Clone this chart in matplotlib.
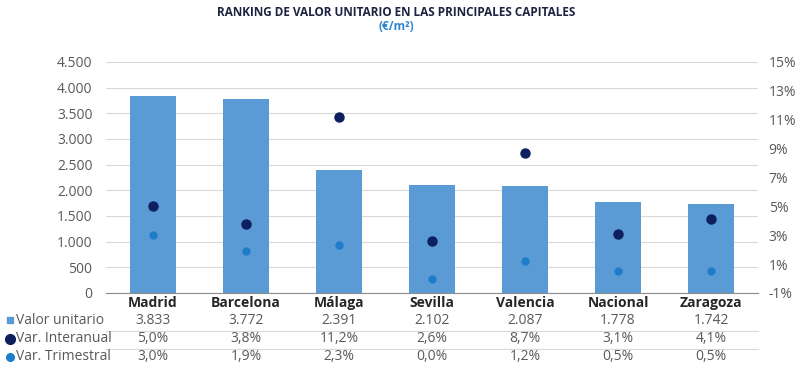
import matplotlib.pyplot as plt
import matplotlib.transforms as mtransforms

# data
ciudades = ['Madrid', 'Barcelona', 'Málaga', 'Sevilla', 'Valencia', 'Nacional', 'Zaragoza']
valor_unitario = [3833, 3772, 2391, 2102, 2087, 1778, 1742]
var_interanual = [5.0, 3.8, 11.2, 2.6, 8.7, 3.1, 4.1]
var_trimestral = [3.0, 1.9, 2.3, 0.0, 1.2, 0.5, 0.5]

left_ticks = [0, 500, 1000, 1500, 2000, 2500, 3000, 3500, 4000, 4500]
right_ticks = [-1, 1, 3, 5, 7, 9, 11, 13, 15]

c_bar = '#5b9bd5'
c_dark = '#0c1f5e'
c_light = '#1f7cc9'
c_text = '#595959'

plt.rcParams['font.family'] = ['Open Sans', 'DejaVu Sans']

def miles(v):
    return f'{v:,}'.replace(',', '.')

def pct(v):
    return f'{v:.1f}%'.replace('.', ',')

fig = plt.figure(figsize=(8, 3.69), dpi=100)
ax = fig.add_axes([0.133, 0.206, 0.814, 0.626])
x = list(range(len(ciudades)))

ax.bar(x, valor_unitario, width=0.5, color=c_bar, zorder=2)
ax.set_xlim(-0.5, len(ciudades) - 0.5)
ax.set_ylim(0, 4500)
ax.set_yticks(left_ticks)
ax.set_yticklabels([miles(v) for v in left_ticks])
ax.grid(axis='y', color='#d9d9d9', linewidth=0.8, zorder=0)
ax.set_xticks([])
for s in ['top', 'right', 'left']:
    ax.spines[s].set_visible(False)
ax.spines['bottom'].set_color('#8c8c8c')
ax.tick_params(axis='y', length=0, labelsize=10, labelcolor=c_text, pad=10)

ax2 = ax.twinx()
ax2.set_ylim(-1, 15)
ax2.set_yticks(right_ticks)
ax2.set_yticklabels([f'{v}%' for v in right_ticks])
ax2.tick_params(axis='y', length=0, labelsize=10, labelcolor=c_text, pad=8)
for s in ax2.spines.values():
    s.set_visible(False)
ax2.plot(x, var_interanual, 'o', color=c_dark, markersize=6.5, zorder=4)
ax2.plot(x, var_trimestral, 'o', color=c_light, markersize=5, zorder=4)

# data table under the chart
trans = mtransforms.blended_transform_factory(ax.transData, fig.transFigure)
row_y = [1 - 303 / 369, 1 - 320 / 369, 1 - 339 / 369, 1 - 357 / 369]
for i, c in enumerate(ciudades):
    ax.text(i, row_y[0], c, transform=trans, ha='center', va='center',
            fontsize=10, fontweight='bold', color='#262626')
    ax.text(i, row_y[1], miles(valor_unitario[i]), transform=trans, ha='center',
            va='center', fontsize=10, color=c_text)
    ax.text(i, row_y[2], pct(var_interanual[i]), transform=trans, ha='center',
            va='center', fontsize=10, color=c_text)
    ax.text(i, row_y[3], pct(var_trimestral[i]), transform=trans, ha='center',
            va='center', fontsize=10, color=c_text)

for yl in [1 - 331 / 369, 1 - 349 / 369]:
    fig.add_artist(plt.Line2D([0.133, 0.947], [yl, yl], color='#d9d9d9', linewidth=0.8))

etiquetas = ['Valor unitario', 'Var. Interanual', 'Var. Trimestral']
marcas = [('s', c_bar, 4), ('o', c_dark, 7), ('o', c_light, 5.5)]
for lab, (m, col, ms), yy in zip(etiquetas, marcas, row_y[1:]):
    fig.add_artist(plt.Line2D([10 / 800], [yy], marker=m, color=col, markersize=ms,
                              linestyle='none'))
    fig.text(16 / 800, yy, lab, ha='left', va='center', fontsize=10, color=c_text)

fig.text(0.495, 1 - 12 / 369, 'RANKING DE VALOR UNITARIO EN LAS PRINCIPALES CAPITALES',
         ha='center', va='center', fontsize=8.5, fontweight='bold', color='#1c2340')
fig.text(0.495, 1 - 27 / 369, '(€/m²)', ha='center', va='center', fontsize=8.5,
         fontweight='bold', color='#2e86d0')

fig.savefig('out.png', dpi=100)
